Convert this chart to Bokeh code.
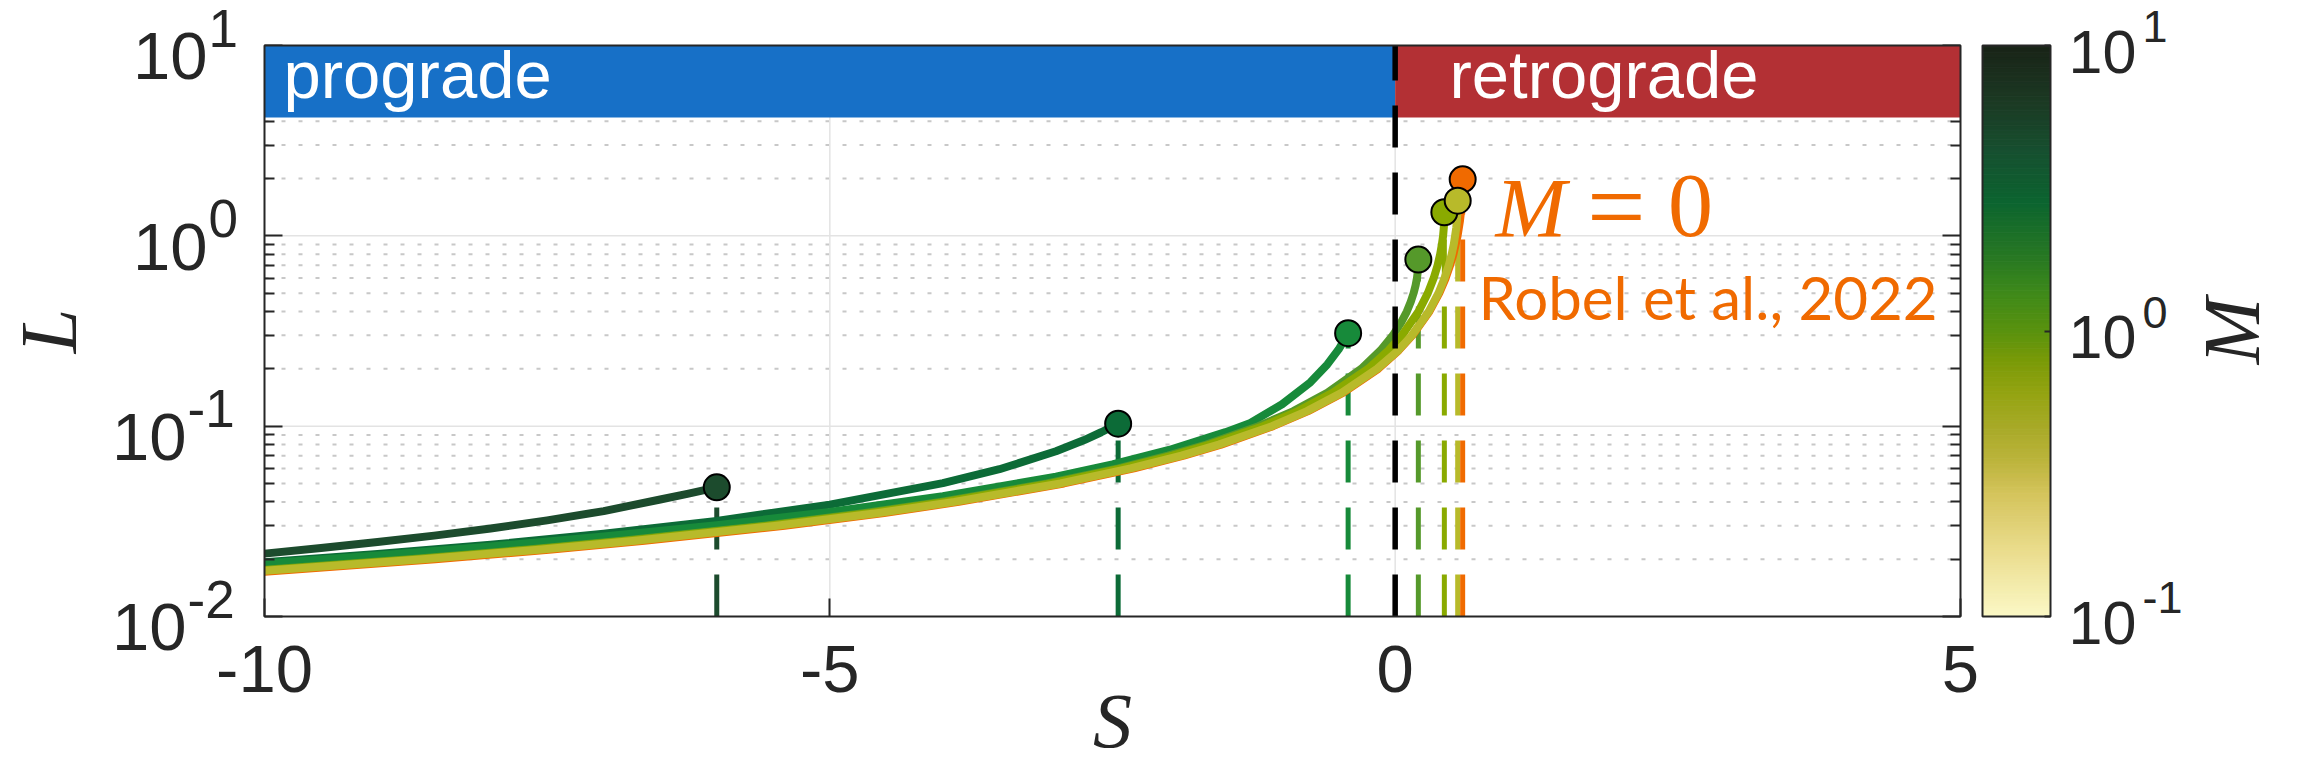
import numpy as np
from bokeh.plotting import figure
from bokeh.models import (Range1d, FixedTicker, LinearAxis, LogAxis, LogScale, BoxAnnotation,
                          Label, BasicTickFormatter, ColumnDataSource)
from bokeh.transform import log_cmap
from bokeh.embed import file_html
from bokeh.resources import INLINE

# ---------------- data: L versus S, one curve per value of M ----------------
S_C1 = [-10.0, -9.5, -9.0, -8.5, -8.0, -7.5, -7.0, -6.5, -6.25, -6.0]
L_C1 = [0.0214, 0.0229, 0.0246, 0.0266, 0.0290, 0.0320, 0.0358, 0.0412, 0.0442, 0.0477]

S_C2 = [-10.0, -9.0, -8.0, -7.0, -6.0, -5.0, -4.0, -3.5, -3.0, -2.75, -2.6, -2.45]
L_C2 = [0.0193, 0.0213, 0.0238, 0.0272, 0.0318, 0.0387, 0.0502, 0.0594, 0.0738, 0.0845, 0.0929, 0.103]

S_C3 = [-10.0, -9.0, -8.0, -7.0, -6.0, -5.0, -4.0, -3.0, -2.5, -2.0, -1.5, -1.28, -1.0,
        -0.75, -0.6, -0.5, -0.416]
L_C3 = [0.0190, 0.0209, 0.0233, 0.0263, 0.0302, 0.0354, 0.0428, 0.0543, 0.0629, 0.0750,
        0.0930, 0.104, 0.1304, 0.170, 0.211, 0.253, 0.308]

S_C4 = [-10.0, -8.72, -7.67, -6.84, -5.58, -4.69, -4.02, -3.08, -2.45, -2.01, -1.67, -1.21,
        -0.90, -0.60, -0.30, -0.13, -0.02, 0.052, 0.103, 0.138, 0.163, 0.181, 0.193, 0.200,
        0.204, 0.205]
L_C4 = [0.0176, 0.020, 0.0225, 0.025, 0.030, 0.035, 0.040, 0.050, 0.060, 0.070, 0.080, 0.10,
        0.12, 0.15, 0.20, 0.25, 0.30, 0.35, 0.40, 0.45, 0.50, 0.55, 0.60, 0.65, 0.70, 0.75]

S_C5 = [-10.0, -8.66, -7.62, -6.79, -5.54, -4.64, -3.98, -3.04, -2.42, -1.97, -1.64, -1.17,
        -0.86, -0.55, -0.24, -0.06, 0.060, 0.206, 0.289, 0.341, 0.375, 0.398, 0.413, 0.424,
        0.430, 0.434, 0.435]
L_C5 = [0.0175, 0.020, 0.0225, 0.025, 0.030, 0.035, 0.040, 0.050, 0.060, 0.070, 0.080, 0.10,
        0.12, 0.15, 0.20, 0.25, 0.30, 0.40, 0.50, 0.60, 0.70, 0.80, 0.90, 1.00, 1.10, 1.20, 1.33]

S_C6 = [-10.0, -8.60, -7.55, -6.72, -5.47, -4.57, -3.90, -2.96, -2.34, -1.89, -1.56, -1.09,
        -0.78, -0.47, -0.16, 0.027, 0.148, 0.297, 0.383, 0.437, 0.474, 0.500, 0.518, 0.530,
        0.540, 0.546, 0.551, 0.553]
L_C6 = [0.0174, 0.020, 0.0225, 0.025, 0.030, 0.035, 0.040, 0.050, 0.060, 0.070, 0.080, 0.10,
        0.12, 0.15, 0.20, 0.25, 0.30, 0.40, 0.50, 0.60, 0.70, 0.80, 0.90, 1.00, 1.10, 1.20,
        1.35, 1.53]

# M = 0 reference curve (Robel et al., 2022)
S_M0 = [-10.0, -8.49, -7.46, -6.64, -5.40, -4.52, -3.86, -2.93, -2.31, -1.87, -1.54, -1.08,
        -0.77, -0.46, -0.15, 0.031, 0.152, 0.302, 0.390, 0.447, 0.486, 0.515, 0.552, 0.573,
        0.586, 0.593, 0.596, 0.597]
L_M0 = [0.0172, 0.020, 0.0225, 0.025, 0.030, 0.035, 0.040, 0.050, 0.060, 0.070, 0.080, 0.10,
        0.12, 0.15, 0.20, 0.25, 0.30, 0.40, 0.50, 0.60, 0.70, 0.80, 1.00, 1.20, 1.40, 1.60,
        1.80, 1.98]

CURVES_S = [S_C1, S_C2, S_C3, S_C4, S_C5, S_C6]
CURVES_L = [L_C1, L_C2, L_C3, L_C4, L_C5, L_C6]
CURVE_COLORS = ["#1c4b2d", "#0c6b37", "#178a3a", "#55992a", "#8aaa00", "#b8ba2a"]
M0_COLOR = "#f06a00"

S_LIMITS = (-10, 5)
L_LIMITS = (0.01, 10)
X_TICKS = [-10, -5, 0, 5]
X_TICK_TEXT = ["-10", "-5", "0", "5"]
Y_TICKS = [0.01, 0.1, 1, 10]
Y_TICK_EXP = ["-2", "-1", "0", "1"]
BAND_BOTTOM = 4.18

M_LIMITS = (0.1, 10)
CB_TICKS = [0.1, 1, 10]
CB_TICK_EXP = ["-1", "0", "1"]
CB_STOP_POS = [0.0, 0.116, 0.215, 0.273, 0.331, 0.391, 0.448, 0.499, 0.566, 0.623,
               0.729, 0.816, 0.904, 1.0]
CB_STOP_COLORS = ["#fbf8c6", "#eadc8c", "#d4c45c", "#bcb43c", "#a8aa28", "#94a412",
                  "#7a9a08", "#5a920e", "#3f8a1a", "#2a7a22", "#0c6430", "#175030",
                  "#1c3a24", "#1a2418"]

# ---------------- page geometry (pixels) ----------------
W, H = 2301, 772
BOX_L, BOX_R, BOX_T, BOX_B = 264, 1960, 45, 616      # axes box
CB_L, CB_R = 1982, 2050                               # colour bar
INK = "#262626"
SANS, SERIF = "Liberation Sans", "Liberation Serif"
LIFT = {SANS: 0.42, SERIF: 0.36, "Lato": 0.42}       # baseline correction, in em

px_s = (BOX_R - BOX_L) / (S_LIMITS[1] - S_LIMITS[0])
dec_px = (BOX_B - BOX_T) / np.log10(L_LIMITS[1] / L_LIMITS[0])
x_range = Range1d(S_LIMITS[0] - BOX_L / px_s, S_LIMITS[1] + (W - BOX_R) / px_s)
y_range = Range1d(L_LIMITS[0] * 10 ** (-(H - BOX_B) / dec_px), L_LIMITS[1] * 10 ** (BOX_T / dec_px))

cb_px = CB_R - CB_L
m_dec_px = (BOX_B - BOX_T) / np.log10(M_LIMITS[1] / M_LIMITS[0])

p = figure(width=W, height=H, x_range=x_range, y_range=y_range, y_axis_type="log",
           x_axis_location=None, y_axis_location=None, min_border=0,
           output_backend="svg", toolbar_location=None,
           background_fill_color="white", border_fill_color="white")
p.outline_line_color = None
p.grid.visible = False
p.extra_x_ranges = {"cb": Range1d(-CB_L / cb_px, (W - CB_L) / cb_px)}
p.extra_y_ranges = {"m": Range1d(M_LIMITS[0] * 10 ** (-(H - BOX_B) / m_dec_px),
                                 M_LIMITS[1] * 10 ** (BOX_T / m_dec_px))}
p.extra_y_scales = {"m": LogScale()}


def label(x, y, text, size, font=SANS, dx=0, down=0, **kw):
    """Text whose alphabetic baseline sits `down` px below (x, y)."""
    return Label(x=x, y=y, text=text, x_offset=dx, y_offset=-down + LIFT[font] * size,
                 text_font=font, text_font_size=f"{size}px", text_baseline="alphabetic", **kw)


def vlabel(x, y, text, size, base_dx, **kw):
    """Upright-reading (rotated) serif title whose baseline sits base_dx px right of x."""
    return Label(x=x, y=y, text=text, x_offset=base_dx - LIFT[SERIF] * size,
                 text_font=SERIF, text_font_style="italic", text_font_size=f"{size}px",
                 text_color=INK, angle=90, angle_units="deg", text_align="center",
                 text_baseline="alphabetic", **kw)


# ---------------- grid ----------------
minor_y = [m * 10.0 ** k for k in (-2, -1, 0) for m in range(2, 10)]
p.multi_line(xs=[list(S_LIMITS)] * len(minor_y), ys=[[v, v] for v in minor_y],
             line_color="#c8c8c8", line_width=2, line_dash="4 13", level="underlay")
major_y = Y_TICKS[1:-1]
p.multi_line(xs=[list(S_LIMITS)] * len(major_y), ys=[[v, v] for v in major_y],
             line_color="#e3e3e3", line_width=1.5, level="underlay")
major_x = X_TICKS[1:-1]
p.multi_line(xs=[[v, v] for v in major_x], ys=[list(L_LIMITS)] * len(major_x),
             line_color="#e3e3e3", line_width=1.5, level="underlay")

# ---------------- axes (ticks point into the box) ----------------
def ticks_in(ax, major=18, minor=10):
    ax.axis_line_color = None
    ax.major_tick_line_color = INK
    ax.major_tick_line_width = 2
    ax.major_tick_in = major
    ax.major_tick_out = 0
    ax.minor_tick_line_color = INK
    ax.minor_tick_line_width = 2
    ax.minor_tick_in = minor
    ax.minor_tick_out = 0


xa = LinearAxis(fixed_location=L_LIMITS[0], bounds=S_LIMITS,
                ticker=FixedTicker(ticks=X_TICKS, minor_ticks=[]),
                major_label_overrides=dict(zip(X_TICKS, X_TICK_TEXT)),
                major_label_text_font=SANS, major_label_text_font_size="67px",
                major_label_text_color=INK, major_label_standoff=29)
ticks_in(xa)
p.add_layout(xa, "below")

for side, loc in (("left", S_LIMITS[0]), ("right", S_LIMITS[1])):
    ya = LogAxis(fixed_location=loc, bounds=L_LIMITS,
                 ticker=FixedTicker(ticks=Y_TICKS, minor_ticks=minor_y),
                 formatter=BasicTickFormatter(), major_label_text_font_size="0px",
                 major_label_text_alpha=0, major_label_standoff=0)
    ticks_in(ya)
    p.add_layout(ya, side)

# ---------------- prograde / retrograde bands ----------------
p.add_layout(BoxAnnotation(left=S_LIMITS[0], right=0, bottom=BAND_BOTTOM, top=L_LIMITS[1],
                           fill_color="#1770c7", fill_alpha=1, line_alpha=0))
p.add_layout(BoxAnnotation(left=0, right=S_LIMITS[1], bottom=BAND_BOTTOM, top=L_LIMITS[1],
                           fill_color="#b33034", fill_alpha=1, line_alpha=0))
p.add_layout(label(-9.832, 5.018, "prograde", 67, text_color="white"))
p.add_layout(label(0.480, 5.018, "retrograde", 67, text_color="white"))

# ---------------- dashed drop lines, curves, end markers ----------------
end_s = [s[-1] for s in CURVES_S] + [S_M0[-1]]
end_l = [l[-1] for l in CURVES_L] + [L_M0[-1]]
end_c = CURVE_COLORS + [M0_COLOR]
p.segment(x0=end_s, y0=[L_LIMITS[0]] * len(end_s), x1=end_s, y1=end_l,
          line_color=end_c, line_width=5, line_dash="42 25")

p.line(S_M0, L_M0, line_color=M0_COLOR, line_width=8, line_join="round")
for s, l, c in zip(CURVES_S, CURVES_L, CURVE_COLORS):
    p.line(s, l, line_color=c, line_width=8, line_join="round")

p.scatter([S_M0[-1]], [L_M0[-1]], size=26, fill_color=M0_COLOR, line_color="black",
          line_width=2)
for s, l, c in zip(CURVES_S, CURVES_L, CURVE_COLORS):
    p.scatter([s[-1]], [l[-1]], size=26, fill_color=c, line_color="black", line_width=2)

# S = 0 divider and the axes box, above the bands
p.segment(x0=[0], y0=[L_LIMITS[0]], x1=[0], y1=[L_LIMITS[1]], line_color="black",
          line_width=5.5, line_dash="42 25", level="overlay")
p.quad(left=[S_LIMITS[0]], right=[S_LIMITS[1]], bottom=[L_LIMITS[0]], top=[L_LIMITS[1]],
       fill_color=None, line_color=INK, line_width=2, level="overlay")

# ---------------- M = 0 annotation ----------------
p.add_layout(label(0.887, 0.968, "M", 85, font=SERIF, text_font_style="italic",
                   text_color=M0_COLOR))
p.add_layout(label(1.957, 0.968, "=", 104, font=SERIF, down=5, text_align="center",
                   text_color=M0_COLOR))
p.add_layout(label(2.612, 0.968, "0", 90, font=SERIF, text_align="center",
                   text_color=M0_COLOR))
p.add_layout(label(0.737, 0.3504, "Robel et al., 2022", 60, font="Lato",
                   text_color=M0_COLOR))

# ---------------- y tick labels: 10 with a raised exponent ----------------
for t, e in zip(Y_TICKS, Y_TICK_EXP):
    split = -78 if e.startswith("-") else -57
    p.add_layout(label(S_LIMITS[0], t, "10", 67, dx=split, down=39, text_align="right",
                       text_color=INK))
    p.add_layout(label(S_LIMITS[0], t, e, 53, dx=split + 1, down=5, text_align="left",
                       text_color=INK))

# axis titles
p.add_layout(vlabel(S_LIMITS[0], 10 ** np.mean(np.log10(L_LIMITS)), "L", 80,
                    base_dx=77 - BOX_L))
p.add_layout(label(np.mean(S_LIMITS), L_LIMITS[0], "S", 78, font=SERIF, down=132,
                   text_font_style="italic", text_align="center", text_color=INK))

# ---------------- colour bar for M ----------------
def _rgb(h):
    return [int(h[i:i + 2], 16) for i in (1, 3, 5)]


stop_rgb = np.array([_rgb(c) for c in CB_STOP_COLORS], dtype=float)
palette = ["#%02x%02x%02x" % tuple(int(round(np.interp(x, CB_STOP_POS, stop_rgb[:, k])))
                                   for k in range(3))
           for x in np.linspace(0, 1, 256)]

edges = np.logspace(np.log10(M_LIMITS[0]), np.log10(M_LIMITS[1]), 257)
cb_src = ColumnDataSource(dict(bottom=edges[:-1], top=edges[1:],
                               m=np.sqrt(edges[:-1] * edges[1:])))
cmap = log_cmap("m", palette, M_LIMITS[0], M_LIMITS[1])
p.quad(left=0, right=1, bottom="bottom", top="top", source=cb_src, fill_color=cmap,
       line_color=cmap, line_width=1, x_range_name="cb", y_range_name="m")
p.quad(left=[0], right=[1], bottom=[M_LIMITS[0]], top=[M_LIMITS[1]], fill_color=None,
       line_color=INK, line_width=2, x_range_name="cb", y_range_name="m")

cba = LogAxis(fixed_location=1, bounds=M_LIMITS, x_range_name="cb", y_range_name="m",
              ticker=FixedTicker(ticks=CB_TICKS, minor_ticks=[]),
              formatter=BasicTickFormatter(), major_label_text_font_size="0px",
              major_label_text_alpha=0, major_label_standoff=0)
ticks_in(cba, major=6, minor=0)
p.add_layout(cba, "right")

for t, e in zip(CB_TICKS, CB_TICK_EXP):
    p.add_layout(label(1, t, "10", 61, dx=18, down=32, text_color=INK,
                       x_range_name="cb", y_range_name="m"))
    p.add_layout(label(1, t, e, 45, dx=92, down=0, text_color=INK,
                       x_range_name="cb", y_range_name="m"))

p.add_layout(vlabel(1, 10 ** np.mean(np.log10(M_LIMITS)), "M", 80, base_dx=2260 - CB_R,
                    x_range_name="cb", y_range_name="m"))

open("out.html", "w").write(file_html(p, INLINE, title="L versus S"))
